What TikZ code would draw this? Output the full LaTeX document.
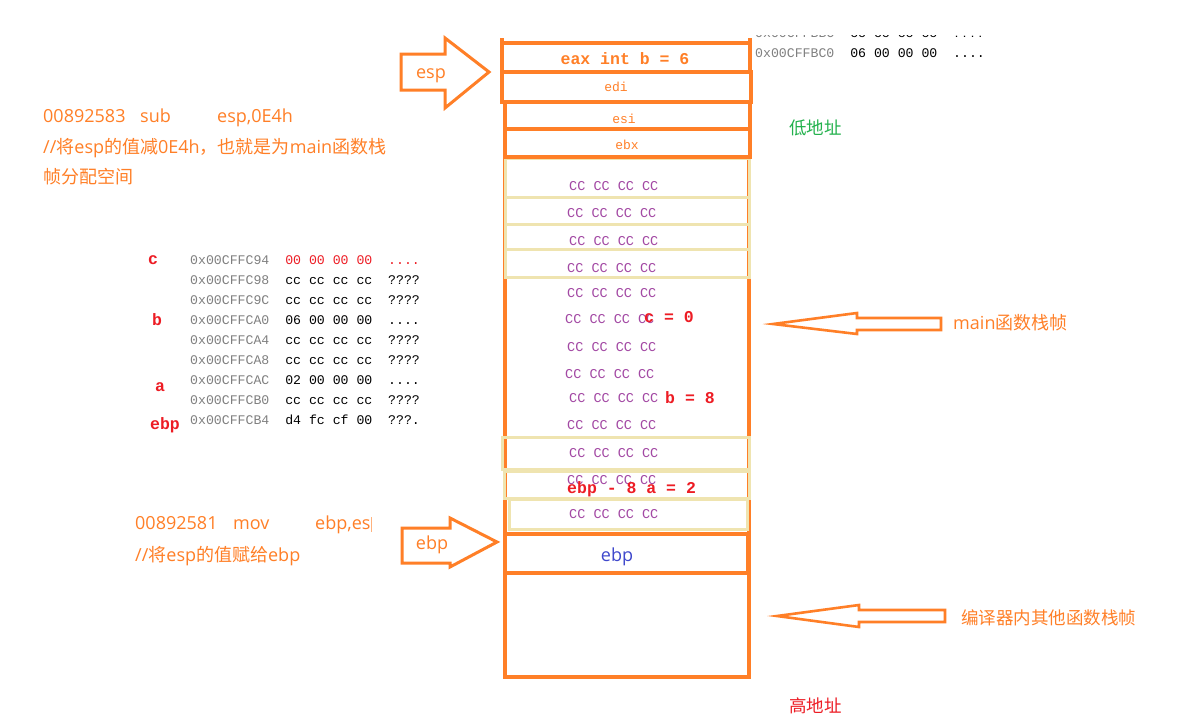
\documentclass[tikz,border=0pt]{standalone}
\usepackage{fontspec}
\setmainfont{Open Sans}
\setmonofont{Liberation Mono}
\newfontfamily\cjk{Noto Sans CJK SC}
\definecolor{cOrange}{HTML}{FF7F27}
\definecolor{cTan}{HTML}{EFE4B0}
\definecolor{cPurple}{HTML}{A349A4}
\definecolor{cRed}{HTML}{ED1C24}
\definecolor{cGreen}{HTML}{22B14C}
\definecolor{cBlue}{HTML}{3F48CC}
\definecolor{cGray}{HTML}{808080}
\begin{document}
\begin{tikzpicture}[x=1pt,y=-1pt,
  obox/.style={draw=cOrange,line width=3.2pt},
  tbox/.style={draw=cTan,line width=3pt},
  barrow/.style={draw=cOrange,line width=3pt,line join=miter,fill=white},
  tarrow/.style={draw=cOrange,line width=2.6pt,line join=miter,fill=white},
  dump/.style={inner sep=0pt,anchor=base west,font=\fontsize{13.2}{15}\ttfamily},
  cc/.style={inner sep=0pt,anchor=base west,text=cPurple,font=\fontsize{13.5}{15}\ttfamily},
  boldm/.style={inner sep=0pt,text=cRed,font=\fontsize{16.5}{18}\ttfamily\bfseries},
  regm/.style={inner sep=0pt,anchor=base,text=cOrange,font=\fontsize{13}{15}\ttfamily},
  note/.style={inner sep=0pt,anchor=base west,text=cOrange,font=\fontsize{18}{20}\selectfont},
  lbl/.style={inner sep=0pt,anchor=base west,font=\fontsize{17.5}{20}\cjk},
]
\useasboundingbox (0,0) rectangle (1178,723);
\fill[white] (0,0) rectangle (1178,723);

% ---- stack column: orange sides ----
\draw[cOrange,line width=3.2pt] (505,157) -- (505,677);
\draw[cOrange,line width=3.2pt] (749,157) -- (749,677);

% ---- tan cells ----
\draw[tbox] (505,158) rectangle (749,197);
\draw[tbox] (505,197) rectangle (749,224);
\draw[tbox] (505,224) rectangle (749,249);
\draw[tbox] (505,249) rectangle (749,277);
\draw[tbox] (502,437) rectangle (749,469);
\draw[tbox] (504,471) rectangle (749,498);
\draw[tbox] (509,499) rectangle (747,529);

% ---- orange cells ----
\draw[cOrange,line width=3.2pt] (502,38) -- (502,72);
\draw[cOrange,line width=3.2pt] (750,38) -- (750,72);
\draw[obox] (502,43) rectangle (750,72);
\draw[obox] (502,72) rectangle (751,102);
\draw[obox] (505,102) rectangle (750,129);
\draw[obox] (505,129) rectangle (750,157);
\draw[obox] (505,534) rectangle (748,573);
\draw[obox] (505,573) rectangle (749,677);

% ---- cell texts ----
\node[boldm,anchor=base,text=cOrange] (eax) at (625,64) {eax int b = 6};
\node[regm] (edi) at (616,91) {edi};
\node[regm] (esi) at (624,123) {esi};
\node[regm] (ebx) at (627,149) {ebx};
\node[cc] (cc1) at (569,190.5) {CC CC CC CC};
\node[cc] (cc2) at (567,217.5) {CC CC CC CC};
\node[cc] (cc3) at (569,245.5) {CC CC CC CC};
\node[cc] (cc4) at (567,272.5) {CC CC CC CC};
\node[cc] (cc5) at (567,297.5) {CC CC CC CC};
\node[cc] (cc6) at (565,323.5) {CC CC CC CC};
\node[cc] (cc7) at (567,351.5) {CC CC CC CC};
\node[cc] (cc8) at (565,378.5) {CC CC CC CC};
\node[cc] (cc9) at (569,402.5) {CC CC CC CC};
\node[cc] (cc10) at (567,429.5) {CC CC CC CC};
\node[cc] (cc11) at (569,457.5) {CC CC CC CC};
\node[cc] (cc12) at (567,484.5) {CC CC CC CC};
\node[cc] (cc13) at (569,518.5) {CC CC CC CC};
\node[boldm,anchor=base west] (cval) at (644,322) {c = 0};
\node[boldm,anchor=base west] (bval) at (665,403) {b = 8};
\node[boldm,anchor=base west] (aval) at (567,493) {ebp - 8 a = 2};
\node[inner sep=0pt,anchor=base,text=cBlue,font=\fontsize{18}{20}\selectfont] (ebpcell) at (617,561) {ebp};

% ---- block arrows ----
\draw[barrow] (401,54) -- (445,54) -- (445,38) -- (489,72) -- (445,108) -- (445,90) -- (401,90) -- cycle;
\node[note,anchor=base] (esplbl) at (431,78) {esp};
\draw[barrow] (402,528) -- (450,528) -- (450,518) -- (497,542) -- (450,567) -- (450,563) -- (402,563) -- cycle;
\node[note,anchor=base] (ebplbl) at (432,549) {ebp};
\draw[tarrow] (773,324) -- (857,313) -- (857,318) -- (941,318) -- (941,330) -- (857,330) -- (857,334) -- cycle;
\draw[tarrow] (777,616) -- (859,605) -- (859,610) -- (945,610) -- (945,622) -- (859,622) -- (859,627) -- cycle;

% ---- right labels ----
\node[lbl,text=cGreen] (low) at (789,134.5) {低地址};
\node[lbl,text=cRed] (high) at (789,712.5) {高地址};
\node[note] (mainlbl) at (953,329) {main{\cjk 函数栈帧}};
\node[lbl,text=cOrange] (otherlbl) at (961,624.5) {编译器内其他函数栈帧};

% ---- left notes ----
\node[note] (n1a) at (43,122) {00892583};
\node[note] (n1b) at (140,122) {sub};
\node[note] (n1c) at (217,122) {esp,0E4h};
\node[note] (n2) at (43,153) {//{\cjk 将}esp{\cjk 的值减}0E4h{\cjk ，也就是为}main{\cjk 函数栈}};
\node[note] (n3) at (43,183) {{\cjk 帧分配空间}};
\node[note] (m1a) at (135,529) {00892581};
\node[note] (m1b) at (233,529) {mov};
\node[note] (m1c) at (315,529) {ebp,es};
\coordinate (cur1) at (371,517);
\coordinate (cur2) at (371,532);
\draw[cOrange!60,line width=0.8pt] (cur1) -- (cur2);
\node[note] (m2) at (135,561) {//{\cjk 将}esp{\cjk 的值赋给}ebp};

% ---- memory dump ----
\node[dump] (r1) at (190,264.5) {\textcolor{cGray}{0x00CFFC94}~~\textcolor{cRed}{00~00~00~00~~....}};
\node[dump] (r2) at (190,284.5) {\textcolor{cGray}{0x00CFFC98}~~cc~cc~cc~cc~~????};
\node[dump] (r3) at (190,304.5) {\textcolor{cGray}{0x00CFFC9C}~~cc~cc~cc~cc~~????};
\node[dump] (r4) at (190,324.5) {\textcolor{cGray}{0x00CFFCA0}~~06~00~00~00~~....};
\node[dump] (r5) at (190,344.5) {\textcolor{cGray}{0x00CFFCA4}~~cc~cc~cc~cc~~????};
\node[dump] (r6) at (190,364.5) {\textcolor{cGray}{0x00CFFCA8}~~cc~cc~cc~cc~~????};
\node[dump] (r7) at (190,384.5) {\textcolor{cGray}{0x00CFFCAC}~~02~00~00~00~~....};
\node[dump] (r8) at (190,404.5) {\textcolor{cGray}{0x00CFFCB0}~~cc~cc~cc~cc~~????};
\node[dump] (r9) at (190,424.5) {\textcolor{cGray}{0x00CFFCB4}~~d4~fc~cf~00~~???.};
\node[boldm,anchor=base] (lc) at (153,264) {c};
\node[boldm,anchor=base] (lb) at (157,325) {b};
\node[boldm,anchor=base] (la) at (160,391) {a};
\node[boldm,anchor=base] (lebp) at (165,429) {ebp};

% ---- top-right dump ----
\begin{scope}
\clip (752,35) rectangle (1000,40);
\node[dump] (t0) at (755,37.5) {\textcolor{cGray}{0x00CFFBBC}~~cc~cc~cc~cc~~????};
\end{scope}
\node[dump] (t1) at (755,57.5) {\textcolor{cGray}{0x00CFFBC0}~~06~00~00~00~~....};
\end{tikzpicture}
\end{document}
